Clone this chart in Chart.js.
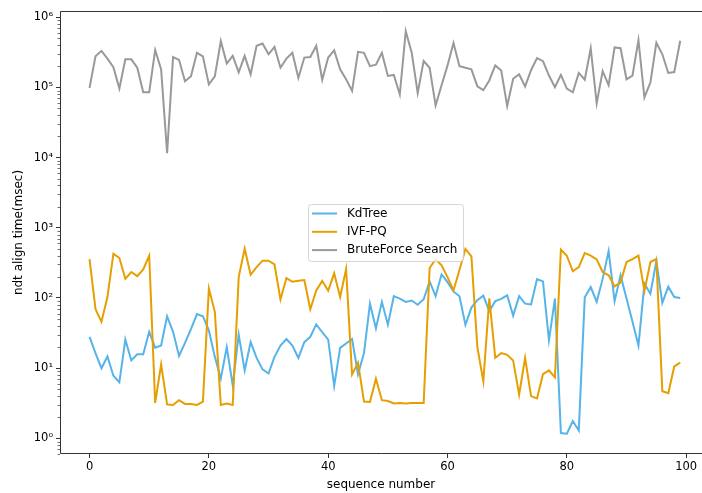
<!DOCTYPE html>
<html>
<head>
<meta charset="utf-8">
<script src="https://cdn.jsdelivr.net/npm/chart.js@4/dist/chart.umd.min.js"></script>
<style>
    html, body { margin: 0; padding: 0; overflow: hidden; background: #fff; }
    canvas { display: block; }
</style>
</head>
<body>
<canvas id="chart" width="702" height="493"></canvas>
<script>
const sequence = [
    0, 1, 2, 3, 4, 5, 6, 7, 8, 9, 10, 11, 12, 13, 14, 15, 16, 17, 18, 19,
    20, 21, 22, 23, 24, 25, 26, 27, 28, 29, 30, 31, 32, 33, 34, 35, 36, 37, 38, 39,
    40, 41, 42, 43, 44, 45, 46, 47, 48, 49, 50, 51, 52, 53, 54, 55, 56, 57, 58, 59,
    60, 61, 62, 63, 64, 65, 66, 67, 68, 69, 70, 71, 72, 73, 74, 75, 76, 77, 78, 79,
    80, 81, 82, 83, 84, 85, 86, 87, 88, 89, 90, 91, 92, 93, 94, 95, 96, 97, 98, 99
]

const kdTree = [
    28, 16.4, 10, 14.7, 7.8, 6.3, 25.5, 12.9, 15.8, 15.8,
    33, 19.6, 21, 55, 33, 14.9, 23, 36, 59, 55,
    34.5, 14.5, 7.1, 20, 5.7, 30, 9.3, 23.5, 14, 9.6,
    8.4, 14.5, 21, 26, 21, 14, 23.5, 28, 42, 32.5,
    25.5, 5.6, 19.5, 22.5, 26, 8.2, 16.4, 83, 37, 88,
    41.6, 106, 98, 88, 92, 80, 96, 172, 106, 217,
    168, 124, 106, 41.6, 73, 93, 108, 65, 90, 97,
    109, 56, 106, 83, 81, 185, 172, 25, 98, 1.19,
    1.17, 1.77, 1.3, 102, 143, 88, 187, 465, 90, 210,
    98, 46, 21, 160, 115, 335, 85, 145, 103, 100
]

const ivfPq = [
    358, 69.5, 46, 103, 427, 370, 188, 234, 205, 255,
    400, 3.2, 11.3, 3.05, 3.0, 3.5, 3.1, 3.1, 3.0, 3.35,
    136, 63.5, 3.0, 3.15, 3.0, 198, 503, 214, 275, 340,
    340, 300, 95, 192, 170, 176, 180, 69, 128, 175,
    127, 224, 103, 258, 8.15, 12, 3.35, 3.3, 7.1, 3.5,
    3.4, 3.15, 3.2, 3.15, 3.2, 3.2, 3.2, 267, 358, 291,
    198, 128, 250, 500, 390, 20, 6.5, 99, 14, 16.4,
    15.5, 12.9, 4.2, 14, 4.0, 3.7, 8.2, 9.3, 7.4, 490,
    400, 240, 275, 435, 400, 355, 234, 210, 146, 166,
    325, 358, 400, 125, 325, 358, 4.7, 4.4, 10.6, 12
]

const bruteForce = [
    98000, 276000, 330000, 256000, 193000, 96000, 250000, 250000, 190000, 85000,
    85000, 340000, 180000, 11500, 270000, 246000, 122000, 144000, 310000, 276000,
    110000, 143000, 455000, 218000, 280000, 163000, 280000, 153000, 390000, 420000,
    295000, 375000, 190000, 256000, 310000, 136000, 265000, 270000, 390000, 128000,
    265000, 335000, 180000, 130000, 89000, 320000, 310000, 200000, 210000, 310000,
    145000, 150000, 79000, 630000, 310000, 83000, 237000, 190000, 55000, 107000,
    205000, 427000, 200000, 190000, 180000, 103000, 91000, 125000, 205000, 173000,
    54000, 132000, 153000, 103000, 175000, 260000, 235000, 147000, 100000, 150000,
    96000, 85000, 160000, 128000, 360000, 59000, 170000, 107000, 370000, 360000,
    130000, 147000, 470000, 72000, 117000, 430000, 295000, 160000, 165000, 460000
]

const xTicks = [0, 20, 40, 60, 80, 100]
const yMajorTicks = [1, 10, 100, 1000, 10000, 100000, 1000000]
const yTickLabels = ['10⁰', '10¹', '10²', '10³', '10⁴', '10⁵', '10⁶']

const FONT = "'DejaVu Sans', sans-serif"
const SPINE = '#333'

function points(values) {
    return values.map((v, i) => ({ x: sequence[i], y: v }))
}

function logTicks(min, max) {
    const ticks = []
    for (let exp = -1; exp <= 6; exp++) {
        for (let m = 1; m <= 9; m++) {
            const value = m * Math.pow(10, exp)
            if (value >= min && value <= max) ticks.push({ value, major: m === 1 })
        }
    }
    return ticks
}

// spines (right one is cut off in the original), minor ticks and the legend box
const frame = {
    id: 'frame',
    afterDraw(chart) {
        const { ctx, chartArea: a } = chart
        const y = chart.scales.y
        ctx.save()
        ctx.strokeStyle = SPINE
        ctx.lineWidth = 1
        ctx.beginPath()
        ctx.moveTo(a.right, a.top + 0.5)
        ctx.lineTo(a.left + 0.5, a.top + 0.5)
        ctx.lineTo(a.left + 0.5, a.bottom - 0.5)
        ctx.lineTo(a.right, a.bottom - 0.5)
        ctx.stroke()
        ctx.beginPath()
        y.ticks.forEach(t => {
            if (t.major) return
            const py = Math.round(y.getPixelForValue(t.value)) + 0.5
            ctx.moveTo(a.left - 2.5, py)
            ctx.lineTo(a.left, py)
        })
        ctx.lineWidth = 0.7
        ctx.stroke()

        const bx = 308, by = 204, bw = 155, bh = 57
        ctx.fillStyle = 'rgba(255,255,255,0.8)'
        ctx.strokeStyle = 'rgba(204,204,204,0.8)'
        ctx.lineWidth = 1
        ctx.beginPath()
        ctx.roundRect(bx + 0.5, by + 0.5, bw, bh, 3)
        ctx.fill()
        ctx.stroke()

        ctx.font = '12px ' + FONT
        ctx.textBaseline = 'middle'
        ctx.fillStyle = '#000'
        chart.data.datasets.forEach((ds, i) => {
            const ly = by + 9.5 + i * 18.3
            ctx.strokeStyle = ds.borderColor
            ctx.lineWidth = 2
            ctx.beginPath()
            ctx.moveTo(312, ly)
            ctx.lineTo(337, ly)
            ctx.stroke()
            ctx.fillText(ds.label, 347, ly)
        })
        ctx.restore()
    }
}

const options = {
    responsive: false,
    animation: false,
    devicePixelRatio: 1,
    layout: {
        padding: { top: 11, right: 0, left: 0, bottom: 0 }
    },
    plugins: {
        legend: { display: false },
        tooltip: { enabled: false }
    },
    elements: {
        point: { radius: 0 },
        line: { borderWidth: 2, tension: 0 }
    },
    scales: {
        x: {
            type: 'linear',
            min: -4.95,
            max: 102.65,
            afterBuildTicks: scale => {
                scale.ticks = xTicks.map(value => ({ value }))
            },
            afterFit: scale => { scale.height = 39 },
            grid: {
                drawOnChartArea: false,
                tickLength: 4,
                tickColor: SPINE
            },
            border: { display: false },
            ticks: {
                autoSkip: false,
                maxRotation: 0,
                padding: 2,
                color: '#000',
                font: { family: FONT, size: 11.5 }
            },
            title: {
                display: true,
                text: 'sequence number',
                color: '#000',
                font: { family: FONT, size: 12 },
                padding: { top: 0, bottom: 1 }
            }
        },
        y: {
            type: 'logarithmic',
            min: 0.6,
            max: 1220000,
            afterBuildTicks: scale => {
                scale.ticks = logTicks(scale.min, scale.max)
            },
            afterFit: scale => { scale.width = 60 },
            grid: {
                drawOnChartArea: false,
                tickLength: 4,
                tickColor: ctx => (ctx.tick && ctx.tick.major) ? SPINE : 'rgba(0,0,0,0)'
            },
            border: { display: false },
            ticks: {
                autoSkip: false,
                padding: 3,
                color: '#000',
                font: { family: FONT, size: 11.5 },
                callback: value => {
                    const k = yMajorTicks.findIndex(t => Math.abs(t - value) < t * 1e-6)
                    return k >= 0 ? yTickLabels[k] : ''
                }
            },
            title: {
                display: true,
                text: 'ndt align time(msec)',
                color: '#000',
                font: { family: FONT, size: 12 },
                padding: { top: 12, bottom: 0 }
            }
        }
    }
}

new Chart(document.getElementById('chart'), {
    type: 'line',
    data: {
        datasets: [{
            label: 'KdTree',
            data: points(kdTree),
            borderColor: '#56B4E9',
            order: 1
        }, {
            label: 'IVF-PQ',
            data: points(ivfPq),
            borderColor: '#E69F00',
            order: 0
        }, {
            label: 'BruteForce Search',
            data: points(bruteForce),
            borderColor: '#999999',
            order: 2
        }]
    },
    options,
    plugins: [frame]
})
</script>
</body>
</html>
